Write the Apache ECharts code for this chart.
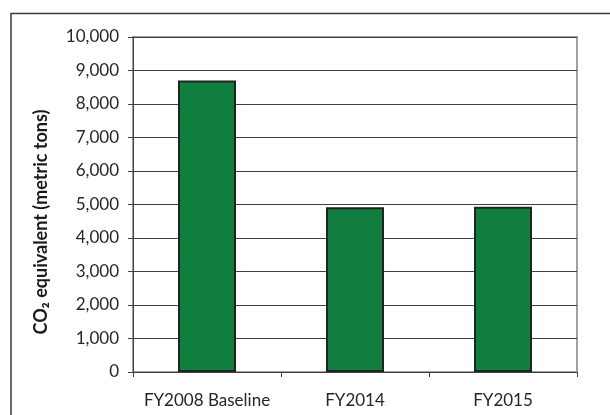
<!DOCTYPE html>
<html><head><meta charset="utf-8">
<script src="https://cdn.jsdelivr.net/npm/echarts@6/dist/echarts.min.js"></script>
<style>html,body{margin:0;padding:0;background:#fff}#c{width:610px;height:415px}</style>
</head><body><div id="c"></div>
<script>
var categories = ['FY2008 Baseline', 'FY2014', 'FY2015'];
var values = [8700, 4920, 4935];
var yMin = 0, yMax = 10000, yStep = 1000;
var yTitle = 'CO₂ equivalent (metric tons)';

var chart = echarts.init(document.getElementById('c'), null, {renderer: 'canvas'});
chart.setOption({
  animation: false,
  backgroundColor: '#fff',
  graphic: [{
    type: 'rect', left: 8.5, top: 11,
    shape: {width: 620, height: 420},
    style: {fill: 'none', stroke: '#3a3a3a', lineWidth: 1.5}
  }, {
    type: 'text', x: 41, y: 222, rotation: Math.PI / 2,
    style: {text: yTitle, fontFamily: 'Lato', fontWeight: 'bold', fontSize: 18,
      fill: '#1a1a1a', align: 'center', verticalAlign: 'middle'}
  }],
  grid: {left: 133, top: 37, right: 33, bottom: 43, show: true, borderColor: '#a0a0a0', borderWidth: 2, containLabel: false},
  xAxis: {
    type: 'category', data: categories,
    axisLine: {lineStyle: {color: '#404040', width: 1}},
    axisTick: {show: true, length: 5, lineStyle: {color: '#404040'}},
    axisLabel: {color: '#262626', fontFamily: 'Lato', fontSize: 17, margin: 20, interval: 0}
  },
  yAxis: {
    type: 'value', min: yMin, max: yMax, interval: yStep,
    axisLine: {show: true, lineStyle: {color: '#404040', width: 1}},
    axisTick: {show: true, length: 5, lineStyle: {color: '#404040'}},
    splitLine: {lineStyle: {color: '#404040', width: 1}},
    axisLabel: {color: '#262626', fontFamily: 'Lato', fontSize: 17, margin: 14,
      formatter: function (v) { return v.toLocaleString('en-US'); }}
  },
  series: [{
    type: 'bar', data: values, barWidth: 58,
    itemStyle: {color: '#107e3e', borderColor: '#222', borderWidth: 2}
  }]
});
</script></body></html>
